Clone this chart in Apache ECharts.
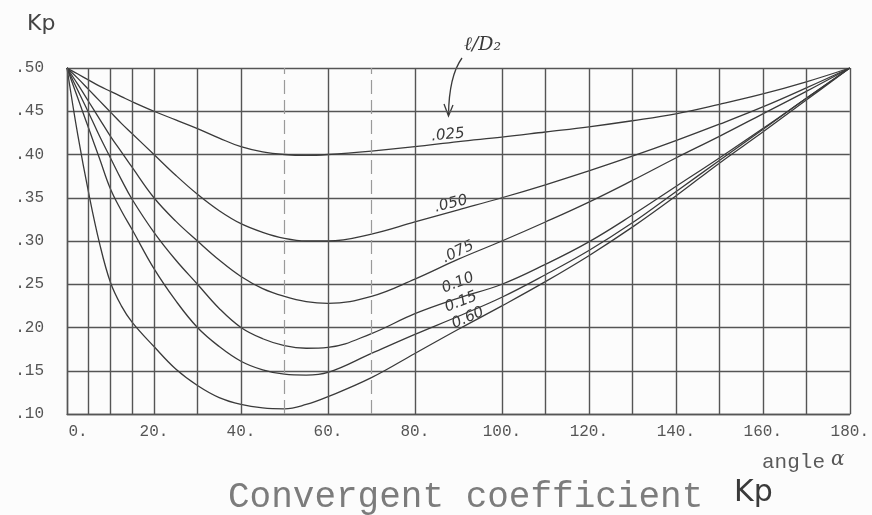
<!DOCTYPE html>
<html>
<head>
<meta charset="utf-8">
<title>Convergent coefficient Kp</title>
<script src="https://cdn.jsdelivr.net/npm/echarts@6/dist/echarts.min.js"></script>
<style>
  html, body { margin: 0; padding: 0; background: #fcfcfc; }
  #main { width: 872px; height: 515px; }
</style>
</head>
<body>
<div id="main"></div>
<script>
// angle (deg) and Kp, one array per l/D2 curve
var angles = [0, 2.5, 5, 7.5, 10, 12.5, 15, 20, 25, 30, 35, 40, 45, 50, 55, 60, 70, 80, 90, 100, 110, 120, 130, 140, 150, 160, 170, 180];
var kp025 = [0.50, 0.493, 0.486, 0.479, 0.473, 0.467, 0.461, 0.450, 0.440, 0.430, 0.419, 0.409, 0.403, 0.400, 0.399, 0.400, 0.404, 0.409, 0.415, 0.420, 0.426, 0.432, 0.439, 0.447, 0.458, 0.470, 0.484, 0.50];
var kp050 = [0.50, 0.488, 0.475, 0.462, 0.449, 0.436, 0.424, 0.400, 0.376, 0.354, 0.335, 0.320, 0.310, 0.303, 0.300, 0.300, 0.308, 0.322, 0.336, 0.350, 0.365, 0.381, 0.398, 0.416, 0.435, 0.455, 0.477, 0.50];
var kp075 = [0.50, 0.481, 0.461, 0.441, 0.421, 0.403, 0.385, 0.350, 0.323, 0.300, 0.278, 0.259, 0.245, 0.236, 0.230, 0.228, 0.236, 0.256, 0.279, 0.300, 0.322, 0.345, 0.370, 0.396, 0.421, 0.447, 0.473, 0.50];
var kp10 = [0.50, 0.474, 0.448, 0.421, 0.396, 0.371, 0.348, 0.310, 0.278, 0.250, 0.222, 0.200, 0.187, 0.179, 0.176, 0.177, 0.193, 0.216, 0.234, 0.250, 0.273, 0.299, 0.330, 0.363, 0.396, 0.430, 0.465, 0.50];
var kp15 = [0.50, 0.465, 0.430, 0.395, 0.360, 0.335, 0.313, 0.268, 0.231, 0.200, 0.178, 0.161, 0.151, 0.146, 0.145, 0.148, 0.170, 0.192, 0.213, 0.235, 0.261, 0.289, 0.321, 0.357, 0.393, 0.429, 0.465, 0.50];
var kp60 = [0.50, 0.422, 0.355, 0.297, 0.252, 0.225, 0.206, 0.178, 0.152, 0.133, 0.119, 0.111, 0.107, 0.106, 0.111, 0.120, 0.142, 0.170, 0.198, 0.225, 0.253, 0.283, 0.316, 0.352, 0.390, 0.426, 0.463, 0.50];

var curveNames = ['.025', '.050', '.075', '0.10', '0.15', '0.60'];
var curveValues = [kp025, kp050, kp075, kp10, kp15, kp60];

var xTickLabels = ['0.', '20.', '40.', '60.', '80.', '100.', '120.', '140.', '160.', '180.'];
var yTickLabels = ['.10', '.15', '.20', '.25', '.30', '.35', '.40', '.45', '.50'];

// vertical rulings of the graph paper (no line at 90, 50 and 70 dashed)
var xGridSolid = [0, 5, 10, 15, 20, 30, 40, 60, 80, 100, 110, 120, 130, 140, 150, 160, 170, 180];
var xGridDashed = [50, 70];

var chartDom = document.getElementById('main');
var myChart = echarts.init(chartDom);
var option;

var gridColor = '#555';
var inkColor = '#3a3a3a';
var monoFont = '"Liberation Mono", "DejaVu Sans Mono", monospace';

var rulings = xGridSolid.map(function (v) {
    return { xAxis: v, lineStyle: { color: gridColor, width: 1.4, type: 'solid' } };
}).concat(xGridDashed.map(function (v) {
    return { xAxis: v, lineStyle: { color: '#9a9a9a', width: 1.2, type: [14, 6] } };
}));

var series = curveNames.map(function (name, i) {
    var s = {
        name: name,
        type: 'line',
        smooth: 0.4,
        showSymbol: false,
        silent: true,
        lineStyle: { color: inkColor, width: 1.3 },
        data: angles.map(function (a, j) { return [a, curveValues[i][j]]; })
    };
    if (i === 0) {
        s.markLine = {
            silent: true,
            symbol: 'none',
            animation: false,
            label: { show: false },
            data: rulings
        };
    }
    return s;
});

function curveLabel(text, x, y, rot) {
    return {
        type: 'text',
        x: x,
        y: y,
        rotation: rot,
        style: {
            text: text,
            fill: '#3a3a3a',
            font: 'italic 15px "DejaVu Sans", sans-serif',
            align: 'center',
            verticalAlign: 'middle',
            textAlign: 'center',
            textVerticalAlign: 'middle'
        }
    };
}

option = {
    backgroundColor: '#fcfcfc',
    animation: false,
    grid: {
        left: 67,
        right: 16,
        top: 68,
        bottom: 101
    },
    xAxis: {
        type: 'value',
        min: 0,
        max: 180,
        interval: 20,
        axisLine: { show: true, lineStyle: { color: gridColor, width: 1.4 } },
        axisTick: { show: false },
        splitLine: { show: false },
        axisLabel: {
            margin: 10,
            color: '#555',
            fontFamily: monoFont,
            fontSize: 16,
            formatter: function (v) {
                var t = xTickLabels[Math.round(v / 20)];
                return v === 0 ? '{first|' + t + '}' : t;
            },
            rich: {
                first: { padding: [0, 0, 0, 22], color: '#555', fontFamily: monoFont, fontSize: 16 }
            }
        }
    },
    yAxis: {
        type: 'value',
        min: 0.1,
        max: 0.5,
        interval: 0.05,
        axisLine: { show: true, lineStyle: { color: gridColor, width: 1.4 } },
        axisTick: { show: false },
        splitLine: { show: true, lineStyle: { color: gridColor, width: 1.4 } },
        axisLabel: {
            margin: 23,
            color: '#555',
            fontFamily: monoFont,
            fontSize: 16,
            formatter: function (v) { return yTickLabels[Math.round((v - 0.1) / 0.05)]; }
        }
    },
    graphic: [
        {
            type: 'text', left: 27, top: 13,
            style: { text: 'Kp', fill: '#444', font: '22px "DejaVu Sans", sans-serif' }
        },
        {
            type: 'text', left: 762, top: 452,
            style: { text: 'angle', fill: '#5a5a5a', font: '21px ' + monoFont }
        },
        {
            type: 'text', left: 831, top: 450,
            style: { text: 'α', fill: '#555', font: 'italic 20px "DejaVu Serif", serif' }
        },
        {
            type: 'text', left: 228, top: 479,
            style: { text: 'Convergent coefficient', fill: '#7c7c7c', font: '36px ' + monoFont }
        },
        {
            type: 'text', left: 734, top: 478,
            style: { text: 'Kp', fill: '#3a3a3a', font: '30px "DejaVu Sans", sans-serif' }
        },
        {
            type: 'text', left: 464, top: 36,
            style: { text: 'ℓ/D₂', fill: '#3a3a3a', font: 'italic 19px "DejaVu Serif", serif' }
        },
        {
            type: 'bezierCurve',
            shape: { x1: 462, y1: 58, x2: 448.5, y2: 115, cpx1: 449, cpy1: 76 },
            style: { stroke: '#3a3a3a', lineWidth: 1.3, fill: null }
        },
        {
            type: 'polyline',
            shape: { points: [[444, 104], [448.5, 116], [453, 105]] },
            style: { stroke: '#3a3a3a', lineWidth: 1.3, fill: null }
        },
        curveLabel('.025', 448, 135, 0.1),
        curveLabel('.050', 451, 204, 0.24),
        curveLabel('.075', 458, 252, 0.45),
        curveLabel('0.10', 458, 283, 0.38),
        curveLabel('0.15', 461, 302, 0.38),
        curveLabel('0.60', 468, 318, 0.42)
    ],
    series: series
};

option && myChart.setOption(option);
</script>
</body>
</html>
